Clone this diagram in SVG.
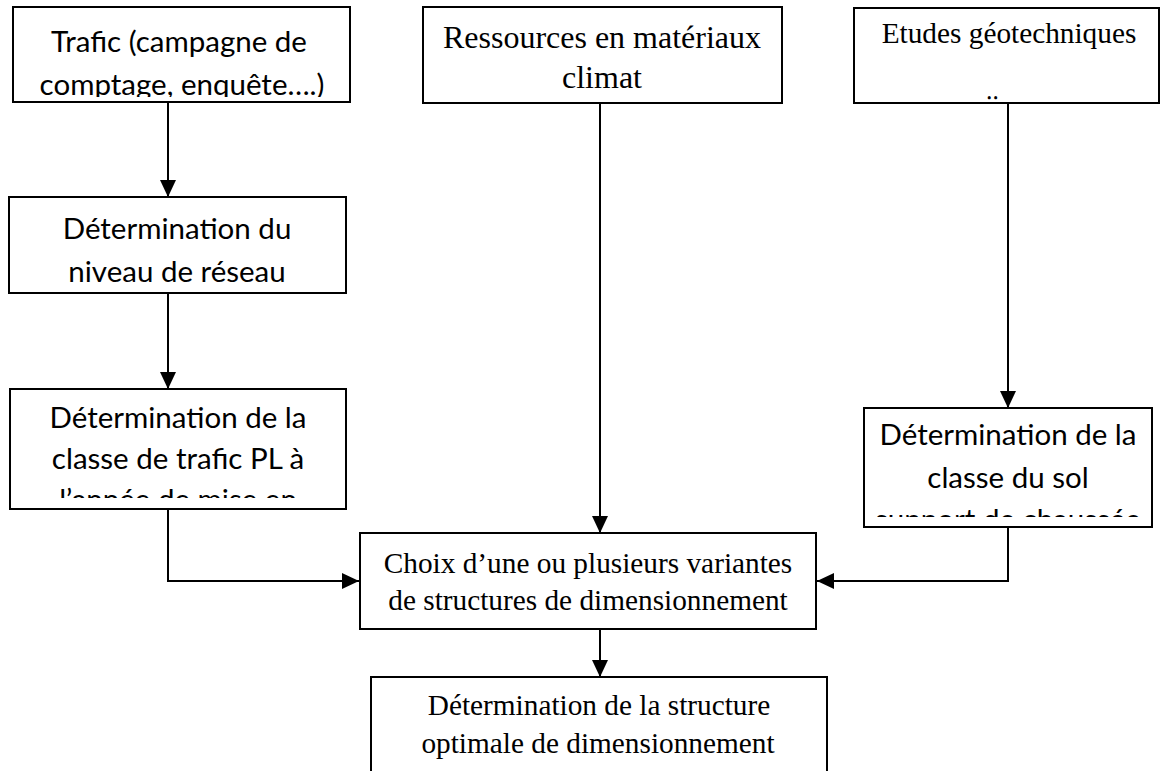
<svg xmlns="http://www.w3.org/2000/svg" width="1161" height="771" viewBox="0 0 1161 771">
<style>
.box{fill:#fff;stroke:#000;stroke-width:2}
.c{font-family:Lato,"Liberation Sans",sans-serif;font-size:29.5px;fill:#000;text-anchor:middle}
.t{font-family:"Liberation Serif","Times New Roman",serif;font-size:29.3px;fill:#000;text-anchor:middle}
.ln{fill:none;stroke:#000;stroke-width:2}
</style>
<defs>
<marker id="ah" markerUnits="userSpaceOnUse" markerWidth="17" markerHeight="16" refX="17" refY="8" orient="auto">
<path d="M0,0 L17,8 L0,16 z" fill="#000"/>
</marker>
<clipPath id="cp1"><rect x="14" y="8" width="336" height="89"/></clipPath>
<clipPath id="cp5"><rect x="11" y="390" width="334" height="108"/></clipPath>
<clipPath id="cp6"><rect x="865" y="409" width="286" height="108"/></clipPath>
</defs>
<g id="connectors">
<line class="ln" x1="168" y1="102" x2="168" y2="197" marker-end="url(#ah)"/>
<line class="ln" x1="168" y1="293" x2="168" y2="389" marker-end="url(#ah)"/>
<polyline class="ln" points="168,509 168,581 359,581" marker-end="url(#ah)"/>
<line class="ln" x1="600" y1="103" x2="600" y2="533" marker-end="url(#ah)"/>
<line class="ln" x1="1008" y1="103" x2="1008" y2="408" marker-end="url(#ah)"/>
<polyline class="ln" points="1008,527 1008,581 817,581" marker-end="url(#ah)"/>
<line class="ln" x1="600" y1="629" x2="600" y2="677" marker-end="url(#ah)"/>
</g>
<g id="n-trafic">
<rect class="box" x="13" y="7" width="337" height="95"/>
<g clip-path="url(#cp1)">
<text class="c" x="179" y="52">Trafic (campagne de</text>
<text class="c" x="182" y="95">comptage, enquête….)</text>
</g>
</g>
<g id="n-ressources">
<rect class="box" x="423" y="7" width="359" height="96"/>
<text class="t" x="602" y="48" style="font-size:32px">Ressources en matériaux</text>
<text class="t" x="602" y="88" style="font-size:32px">climat</text>
</g>
<g id="n-etudes">
<rect class="box" x="854" y="8" width="305" height="95"/>
<text class="t" x="1009" y="43">Etudes géotechniques</text>
<text class="t" x="992" y="99" style="font-size:24px">‥</text>
</g>
<g id="n-niveau">
<rect class="box" x="9" y="197" width="337" height="96"/>
<text class="c" x="177" y="239">Détermination du</text>
<text class="c" x="177" y="282">niveau de réseau</text>
</g>
<g id="n-classe-trafic">
<rect class="box" x="10" y="389" width="336" height="120"/>
<g clip-path="url(#cp5)">
<text class="c" x="178" y="428">Détermination de la</text>
<text class="c" x="178" y="469">classe de trafic PL à</text>
<text class="c" x="178" y="510">l’année de mise en</text>
</g>
</g>
<g id="n-classe-sol">
<rect class="box" x="864" y="408" width="288" height="119"/>
<g clip-path="url(#cp6)">
<text class="c" x="1008" y="445">Détermination de la</text>
<text class="c" x="1008" y="488">classe du sol</text>
<text class="c" x="1008" y="530">support de chaussée</text>
</g>
</g>
<g id="n-choix">
<rect class="box" x="360" y="533" width="456" height="96"/>
<text class="t" x="588" y="573">Choix d’une ou plusieurs variantes</text>
<text class="t" x="588" y="610">de structures de dimensionnement</text>
</g>
<g id="n-optimale">
<rect class="box" x="371" y="677" width="456" height="110"/>
<text class="t" x="599" y="715">Détermination de la structure</text>
<text class="t" x="598" y="753">optimale de dimensionnement</text>
</g>
</svg>
